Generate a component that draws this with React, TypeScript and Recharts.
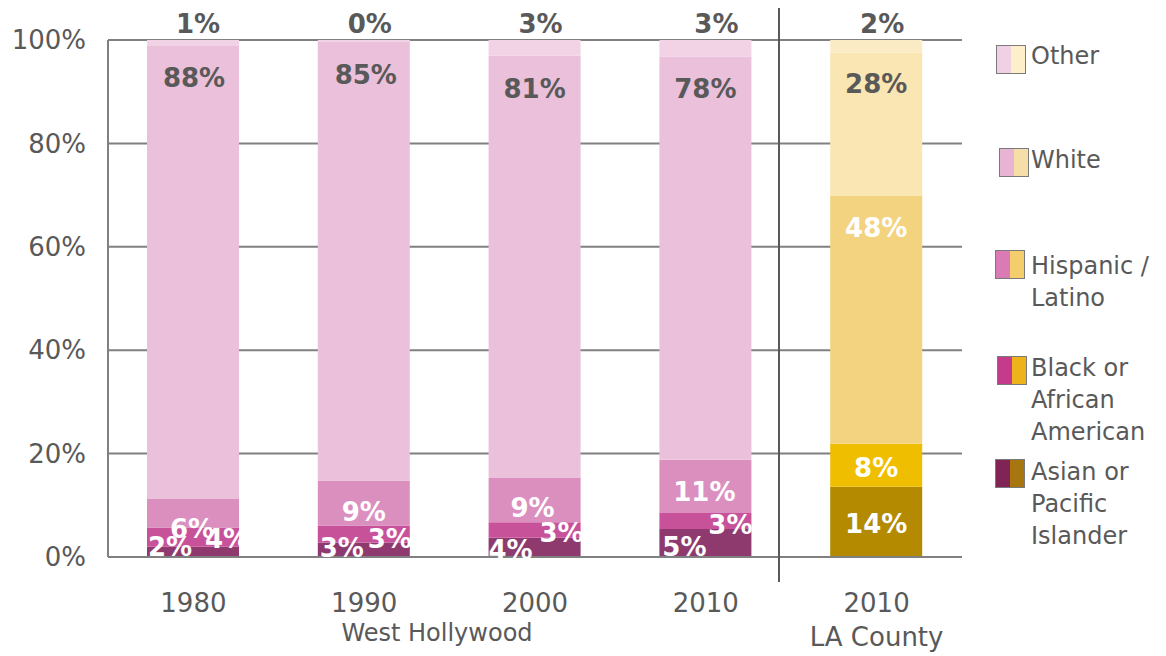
import React from "react";
import { BarChart, Bar, XAxis, YAxis, CartesianGrid, Cell, LabelList } from "recharts";

const categories = ["1980", "1990", "2000", "2010", "2010 LA"];
const tickLabels = ["1980", "1990", "2000", "2010", "2010"];

// share of population, % (bottom to top)
const asian = [2.0, 2.8, 3.7, 5.4, 13.6];
const black = [3.7, 3.3, 3.0, 3.1, 8.3];
const hispanic = [5.5, 8.7, 8.6, 10.3, 48.0];
const white = [87.8, 84.8, 81.7, 78.0, 27.7];
const other = [1.0, 0.4, 3.0, 3.2, 2.4];

const asianLabels = ["2%", "3%", "4%", "5%", "14%"];
const blackLabels = ["4%", "3%", "3%", "3%", "8%"];
const hispanicLabels = ["6%", "9%", "9%", "11%", "48%"];
const whiteLabels = ["88%", "85%", "81%", "78%", "28%"];
const otherLabels = ["1%", "0%", "3%", "3%", "2%"];

const yTicks = [0, 20, 40, 60, 80, 100];

const data = categories.map((c, i) => ({
  cat: c,
  asian: asian[i],
  black: black[i],
  hispanic: hispanic[i],
  white: white[i],
  other: other[i],
}));

const FONT = "'DejaVu Sans', sans-serif";
const GREY = "#595959";
const LA = 4;

type Series = {
  key: string;
  name: string[];
  labels: string[];
  wh: string;
  la: string;
  swWh: string;
  swLa: string;
  mode: "center" | "top" | "above";
  dx: number[];
  dy: number[];
  colors: string[];
};

const series: Series[] = [
  {
    key: "asian", name: ["Asian or", "Pacific", "Islander"], labels: asianLabels,
    wh: "#8e3a6f", la: "#b38a00", swWh: "#802455", swLa: "#a8760e",
    mode: "center", dx: [-23, -22, -24, -21, 0], dy: [-5, -2, 3, 4, 2],
    colors: ["#fff", "#fff", "#fff", "#fff", "#fff"],
  },
  {
    key: "black", name: ["Black or", "African", "American"], labels: blackLabels,
    wh: "#c8529a", la: "#f0be00", swWh: "#c63a8c", swLa: "#eeb21a",
    mode: "center", dx: [34, 26, 27, 25, 0], dy: [2, 5, 3, 4, 3],
    colors: ["#fff", "#fff", "#fff", "#fff", "#fff"],
  },
  {
    key: "hispanic", name: ["Hispanic /", "Latino"], labels: hispanicLabels,
    wh: "#db8fbf", la: "#f3d37f", swWh: "#db7bb5", swLa: "#f4cd6c",
    mode: "center", dx: [-1, 0, -2, -1, 0], dy: [16, 9, 8, 6, -92],
    colors: ["#fff", "#fff", "#fff", "#fff", "#fff"],
  },
  {
    key: "white", name: ["White"], labels: whiteLabels,
    wh: "#ebc0da", la: "#f9e6b3", swWh: "#e8b4d4", swLa: "#f6dea8",
    mode: "top", dx: [1, 2, 0, 0, 0], dy: [33, 33, 33, 32, 32],
    colors: [GREY, GREY, GREY, GREY, GREY],
  },
  {
    key: "other", name: ["Other"], labels: otherLabels,
    wh: "#f2d3e6", la: "#fbebc5", swWh: "#f0d0e4", swLa: "#fcefc9",
    mode: "above", dx: [5, 6, 6, 11, 6], dy: [-16, -16, -16, -16, -16],
    colors: [GREY, GREY, GREY, GREY, GREY],
  },
];

const legendPos = [
  { key: "other", swX: 996, swY: 45, textY: 40 },
  { key: "white", swX: 999, swY: 148, textY: 144 },
  { key: "hispanic", swX: 995, swY: 250, textY: 250 },
  { key: "black", swX: 997, swY: 356, textY: 352 },
  { key: "asian", swX: 995, swY: 459, textY: 456 },
];

function makeLabel(s: Series) {
  return (props: any) => {
    const { x, y, width, height, index } = props;
    const cx = Number(x) + Number(width) / 2 + s.dx[index];
    let cy: number;
    if (s.mode === "center") cy = Number(y) + Number(height) / 2 + s.dy[index];
    else cy = Number(y) + s.dy[index];
    return (
      <text
        x={cx}
        y={cy}
        textAnchor="middle"
        dominantBaseline="central"
        fill={s.colors[index]}
        fontFamily={FONT}
        fontWeight="bold"
        fontSize={26}
      >
        {s.labels[index]}
      </text>
    );
  };
}

function XTick(props: any) {
  const { x, y, payload } = props;
  const i = payload.index;
  return (
    <g>
      <text x={x} y={y + 46} textAnchor="middle" dominantBaseline="central" fill={GREY} fontFamily={FONT} fontSize={26}>
        {tickLabels[i]}
      </text>
      {i === LA && (
        <text x={x} y={y + 80} textAnchor="middle" dominantBaseline="central" fill={GREY} fontFamily={FONT} fontSize={26}>
          LA County
        </text>
      )}
    </g>
  );
}

export default function App() {
  return (
    <div style={{ position: "absolute", left: 0, top: 0, width: 1166, height: 656, background: "#fff", fontFamily: FONT }}>
      <BarChart width={1166} height={656} data={data} margin={{ top: 40, right: 204, left: 8, bottom: 59 }}>
        <CartesianGrid vertical={false} stroke="#808080" strokeWidth={2} />
        <XAxis
          dataKey="cat"
          height={40}
          tickLine={false}
          tickSize={0}
          tickMargin={0}
          axisLine={{ stroke: "#808080", strokeWidth: 2 }}
          tick={<XTick />}
          interval={0}
        />
        <YAxis
          width={100}
          domain={[0, 100]}
          ticks={yTicks}
          tickFormatter={(v) => `${v}%`}
          tickLine={false}
          tickSize={0}
          tickMargin={22}
          axisLine={{ stroke: "#808080", strokeWidth: 2 }}
          tick={{ fill: GREY, fontSize: 26, fontFamily: FONT }}
          allowDataOverflow
        />
        {series.map((s) => (
          <Bar key={s.key} dataKey={s.key} stackId="a" barSize={92} isAnimationActive={false}>
            {data.map((_, i) => (
              <Cell key={i} fill={i === LA ? s.la : s.wh} />
            ))}
            <LabelList dataKey={s.key} content={makeLabel(s)} />
          </Bar>
        ))}
      </BarChart>
      <svg width={1166} height={656} style={{ position: "absolute", left: 0, top: 0, pointerEvents: "none" }}>
        <line x1={779} x2={779} y1={8} y2={582} stroke={GREY} strokeWidth={2} />
        <text x={437} y={633} textAnchor="middle" dominantBaseline="central" fill={GREY} fontFamily={FONT} fontSize={24}>
          West Hollywood
        </text>
      </svg>
      {legendPos.map((p) => {
        const s = series.find((q) => q.key === p.key)!;
        return (
          <React.Fragment key={p.key}>
            <div
              style={{
                position: "absolute",
                left: p.swX,
                top: p.swY,
                width: 28,
                height: 27,
                border: "1.5px solid #7a7a7a",
                display: "flex",
              }}
            >
              <div style={{ flex: 1, background: s.swWh }} />
              <div style={{ flex: 1, background: s.swLa }} />
            </div>
            <div
              style={{
                position: "absolute",
                left: 1031,
                top: p.textY,
                fontSize: 24,
                lineHeight: "32px",
                color: GREY,
                whiteSpace: "nowrap",
              }}
            >
              {s.name.map((n) => (
                <div key={n}>{n}</div>
              ))}
            </div>
          </React.Fragment>
        );
      })}
    </div>
  );
}
